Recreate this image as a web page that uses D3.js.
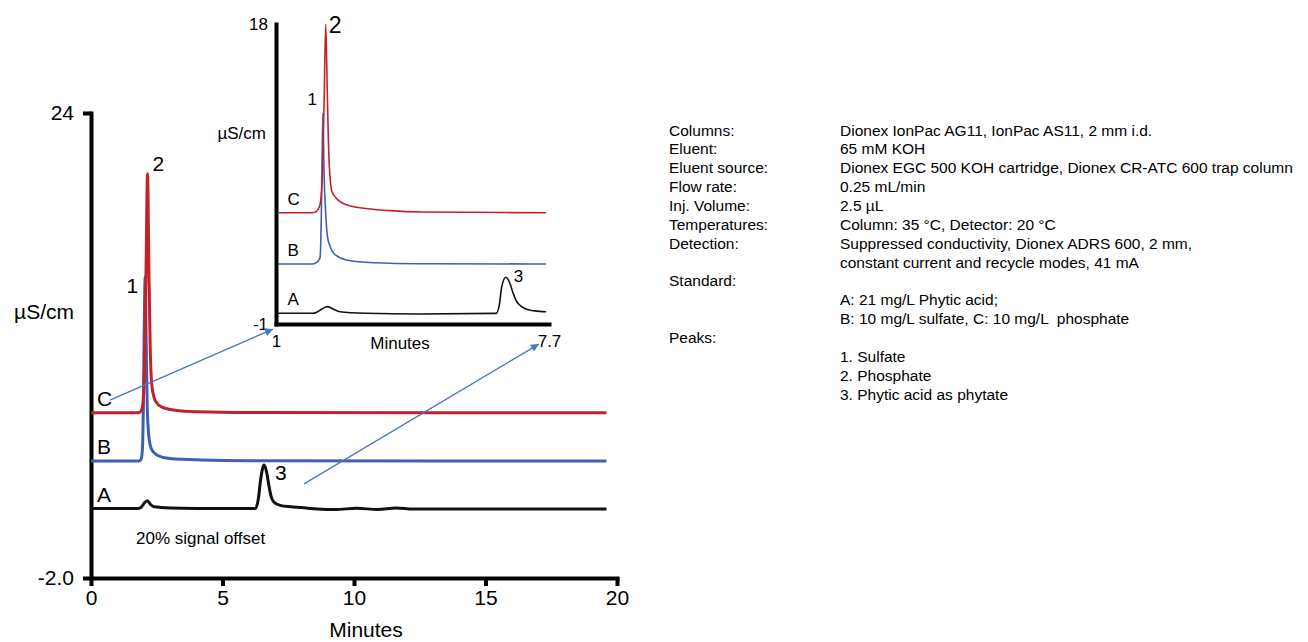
<!DOCTYPE html>
<html>
<head>
<meta charset="utf-8">
<script src="https://cdn.jsdelivr.net/npm/d3@7"></script>
<style>
  body { margin: 0; background: #fff; }
  text { font-family: "Liberation Sans", Arial, Helvetica, sans-serif; fill: #000; }
</style>
</head>
<body>
<div class="chart"></div>
<script>
// main chromatogram, [minutes, uS/cm] (20% signal offset)
var mainTraceA = [[0, 1.88], [1.8, 1.88], [1.92, 1.98], [2.02, 2.18], [2.14, 2.32], [2.26, 2.12], [2.4, 1.98],
  [3, 1.92], [5, 1.88], [6.25, 1.88], [6.36, 2.4], [6.46, 3.6], [6.58, 4.32], [6.68, 3.9], [6.76, 3.2],
  [6.85, 2.55], [6.95, 2.25], [7.19, 2.06], [7.6, 1.98], [8, 1.94], [8.6, 1.86], [9.3, 1.83], [10.1, 1.9],
  [10.9, 1.83], [11.6, 1.92], [12.25, 1.86], [19.6, 1.86]];
var mainTraceB = [[0, 4.54], [1.82, 4.54], [1.9, 4.62], [1.95, 5.1], [1.99, 7.5], [2.02, 11.5], [2.06, 14.85],
  [2.1, 11], [2.14, 7.5], [2.2, 5.9], [2.3, 5.2], [2.5, 4.88], [3, 4.68], [4.2, 4.6], [6, 4.56], [19.6, 4.54]];
var mainTraceC = [[0, 7.24], [1.8, 7.24], [1.9, 7.32], [1.97, 7.7], [2.03, 9.5], [2.09, 15], [2.15, 20.6],
  [2.2, 15.5], [2.25, 11], [2.32, 8.7], [2.45, 7.9], [2.7, 7.55], [3.2, 7.38], [4, 7.3], [6, 7.26], [19.6, 7.24]];

// inset, 1 - 7.7 min
var insetTraceA = [[1.06, -0.32], [1.9, -0.32], [2.0, -0.25], [2.13, -0.05], [2.26, 0.1], [2.4, -0.05],
  [2.57, -0.22], [3.2, -0.32], [4.5, -0.37], [6.4, -0.33], [6.48, 0.2], [6.54, 1.36], [6.64, 1.96],
  [6.74, 1.58], [6.82, 0.95], [6.91, 0.41], [7.02, 0.12], [7.15, -0.07], [7.35, -0.17], [7.63, -0.22]];
var insetTraceB = [[1.06, 2.8], [1.9, 2.8], [2.0, 2.9], [2.08, 3.2], [2.11, 5.5], [2.13, 9], [2.15, 12.35],
  [2.18, 8.5], [2.22, 6], [2.26, 4.6], [2.33, 3.9], [2.41, 3.5], [2.73, 3.05], [3.39, 2.88], [4.5, 2.82], [7.63, 2.8]];
var insetTraceC = [[1.06, 6.05], [1.9, 6.05], [2.0, 6.15], [2.08, 6.55], [2.13, 8], [2.18, 13], [2.22, 18],
  [2.26, 13.5], [2.3, 9.5], [2.37, 7.4], [2.47, 7.0], [2.57, 6.75], [2.98, 6.39], [3.8, 6.18], [4.6, 6.09], [7.63, 6.05]];

var traceNames = ["A", "B", "C"];
var peakNames = ["1", "2", "3"];

var mainXTicks = [0, 5, 10, 15, 20];
var mainYTicks = [24, -2];
var mainYTickLabels = ["24", "-2.0"];
var insetXTicks = [1, 7.7];
var insetYTicks = [18, -1];

var paramLabels = ["Columns:", "Eluent:", "Eluent source:", "Flow rate:", "Inj. Volume:", "Temperatures:",
  "Detection:", "", "Standard:", "", "", "Peaks:", "", "", ""];
var paramValues = ["Dionex IonPac AG11, IonPac AS11, 2 mm i.d.", "65 mM KOH",
  "Dionex EGC 500 KOH cartridge, Dionex CR-ATC 600 trap column", "0.25 mL/min", "2.5 \u00b5L",
  "Column: 35 \u00b0C, Detector: 20 \u00b0C", "Suppressed conductivity, Dionex ADRS 600, 2 mm,",
  "constant current and recycle modes, 41 mA", "", "A: 21 mg/L Phytic acid;",
  "B: 10 mg/L sulfate, C: 10 mg/L  phosphate", "", "1. Sulfate", "2. Phosphate", "3. Phytic acid as phytate"];

function init() {
  var w = 1308;
  var h = 642;
  var colors = { A: "#111111", B: "#3d5fb4", C: "#c4212b" };
  var arrowColor = "#4a76c6";

  var svg = d3.select(".chart")
    .append("svg")
    .attr("width", w)
    .attr("height", h);

  svg.append("rect").attr("width", w).attr("height", h).attr("fill", "#fff");

  var xMain = d3.scaleLinear().domain([0, 20]).range([91, 617]);
  var yMain = d3.scaleLinear().domain([-2, 24]).range([578, 113]);
  var xInset = d3.scaleLinear().domain([1, 7.7]).range([276, 549]);
  var yInset = d3.scaleLinear().domain([-1, 18]).range([324, 24]);

  function styleAxis(g, size) {
    g.select(".domain").attr("stroke", "#000").attr("stroke-width", 4).attr("stroke-linecap", "square");
    g.selectAll(".tick line").attr("stroke", "#000").attr("stroke-width", 4);
    g.selectAll("text")
      .attr("font-size", size)
      .attr("font-family", "'Liberation Sans', Arial, sans-serif")
      .attr("fill", "#000");
  }

  // plain hyphen labels, as in the original figure
  function plain(d) { return String(d); }

  // ---- main axes
  svg.append("g")
    .attr("transform", "translate(" + xMain(0) + ",0)")
    .call(d3.axisLeft(yMain)
      .tickValues(mainYTicks)
      .tickSize(8)
      .tickSizeOuter(0)
      .tickPadding(9)
      .tickFormat(function(d, i) { return mainYTickLabels[i]; }))
    .call(styleAxis, 21);

  svg.append("g")
    .attr("transform", "translate(0," + yMain(-2) + ")")
    .call(d3.axisBottom(xMain)
      .tickValues(mainXTicks)
      .tickSize(8)
      .tickSizeOuter(0)
      .tickPadding(4)
      .tickFormat(plain))
    .call(styleAxis, 21);

  svg.append("text")
    .attr("x", 74)
    .attr("y", 319)
    .attr("text-anchor", "end")
    .attr("font-size", 21)
    .text("\u00b5S/cm");

  svg.append("text")
    .attr("x", 366)
    .attr("y", 637)
    .attr("text-anchor", "middle")
    .attr("font-size", 21)
    .text("Minutes");

  svg.append("text")
    .attr("x", 136)
    .attr("y", 544)
    .attr("font-size", 17)
    .text("20% signal offset");

  // ---- main traces
  var mainLine = d3.line()
    .x(function(d) { return xMain(d[0]); })
    .y(function(d) { return yMain(d[1]); })
    .curve(d3.curveMonotoneX);

  var mainTraces = [mainTraceA, mainTraceB, mainTraceC];

  svg.selectAll(".main-trace")
    .data(mainTraces)
    .enter()
    .append("path")
    .attr("class", "main-trace")
    .attr("fill", "none")
    .attr("stroke", function(d, i) { return colors[traceNames[i]]; })
    .attr("stroke-width", 3)
    .attr("stroke-linejoin", "round")
    .attr("d", mainLine);

  svg.selectAll(".main-name")
    .data(mainTraces)
    .enter()
    .append("text")
    .attr("class", "main-name")
    .attr("x", function(d) { return xMain(d[0][0]) + 6; })
    .attr("y", function(d) { return yMain(d[0][1]) - 7; })
    .attr("font-size", 21)
    .text(function(d, i) { return traceNames[i]; });

  function peakOf(trace) {
    return trace.reduce(function(a, b) { return b[1] > a[1] ? b : a; });
  }

  // peak numbers: 1 on B, 2 on C, 3 on A
  var mainPeaks = [
    { p: peakOf(mainTraceB), dx: -7, dy: 16, anchor: "end" },
    { p: peakOf(mainTraceC), dx: 5, dy: -3, anchor: "start" },
    { p: peakOf(mainTraceA), dx: 11, dy: 15, anchor: "start" }
  ];

  svg.selectAll(".main-peak")
    .data(mainPeaks)
    .enter()
    .append("text")
    .attr("class", "main-peak")
    .attr("x", function(d) { return xMain(d.p[0]) + d.dx; })
    .attr("y", function(d) { return yMain(d.p[1]) + d.dy; })
    .attr("text-anchor", function(d) { return d.anchor; })
    .attr("font-size", 21)
    .text(function(d, i) { return peakNames[i]; });

  // ---- inset
  var inset = svg.append("g").attr("class", "inset");

  inset.append("g")
    .attr("transform", "translate(" + xInset(1) + ",0)")
    .call(d3.axisLeft(yInset)
      .tickValues(insetYTicks)
      .tickSize(0)
      .tickSizeOuter(0)
      .tickPadding(8)
      .tickFormat(plain))
    .call(styleAxis, 17);

  inset.append("g")
    .attr("transform", "translate(0," + yInset(-1) + ")")
    .call(d3.axisBottom(xInset)
      .tickValues(insetXTicks)
      .tickSize(0)
      .tickSizeOuter(0)
      .tickPadding(11)
      .tickFormat(plain))
    .call(styleAxis, 17);

  inset.append("text")
    .attr("x", 266)
    .attr("y", 139)
    .attr("text-anchor", "end")
    .attr("font-size", 17)
    .text("\u00b5S/cm");

  inset.append("text")
    .attr("x", 400)
    .attr("y", 349)
    .attr("text-anchor", "middle")
    .attr("font-size", 17)
    .text("Minutes");

  var insetLine = d3.line()
    .x(function(d) { return xInset(d[0]); })
    .y(function(d) { return yInset(d[1]); })
    .curve(d3.curveMonotoneX);

  var insetTraces = [insetTraceA, insetTraceB, insetTraceC];

  inset.selectAll(".inset-trace")
    .data(insetTraces)
    .enter()
    .append("path")
    .attr("class", "inset-trace")
    .attr("fill", "none")
    .attr("stroke", function(d, i) { return colors[traceNames[i]]; })
    .attr("stroke-width", 1.6)
    .attr("d", insetLine);

  inset.selectAll(".inset-name")
    .data(insetTraces)
    .enter()
    .append("text")
    .attr("class", "inset-name")
    .attr("x", function(d) { return xInset(d[0][0]) + 9; })
    .attr("y", function(d) { return yInset(d[0][1]) - 8; })
    .attr("font-size", 17)
    .text(function(d, i) { return traceNames[i]; });

  var insetPeaks = [
    { p: peakOf(insetTraceB), dx: -6, dy: -8, anchor: "end", size: 17 },
    { p: peakOf(insetTraceC), dx: 3, dy: 9, anchor: "start", size: 23 },
    { p: peakOf(insetTraceA), dx: 8, dy: 5, anchor: "start", size: 17 }
  ];

  inset.selectAll(".inset-peak")
    .data(insetPeaks)
    .enter()
    .append("text")
    .attr("class", "inset-peak")
    .attr("x", function(d) { return xInset(d.p[0]) + d.dx; })
    .attr("y", function(d) { return yInset(d.p[1]) + d.dy; })
    .attr("text-anchor", function(d) { return d.anchor; })
    .attr("font-size", function(d) { return d.size; })
    .text(function(d, i) { return peakNames[i]; });

  // ---- zoom arrows (main chart units)
  svg.append("defs").append("marker")
    .attr("id", "head")
    .attr("viewBox", "0 0 10 10")
    .attr("refX", 10)
    .attr("refY", 5)
    .attr("markerUnits", "userSpaceOnUse")
    .attr("markerWidth", 11)
    .attr("markerHeight", 8)
    .attr("orient", "auto")
    .append("path")
    .attr("d", "M0,0L10,5L0,10z")
    .attr("fill", arrowColor);

  var arrows = [
    [[0.72, 7.95], [6.92, 11.92]],
    [[8.1, 3.26], [17.03, 11.08]]
  ];

  svg.selectAll(".arrow")
    .data(arrows)
    .enter()
    .append("line")
    .attr("class", "arrow")
    .attr("x1", function(d) { return xMain(d[0][0]); })
    .attr("y1", function(d) { return yMain(d[0][1]); })
    .attr("x2", function(d) { return xMain(d[1][0]); })
    .attr("y2", function(d) { return yMain(d[1][1]); })
    .attr("stroke", arrowColor)
    .attr("stroke-width", 1.3)
    .attr("marker-end", "url(#head)");

  // ---- conditions block
  var info = svg.append("g").attr("class", "info").attr("font-size", 15.5);

  info.selectAll(".param-label")
    .data(paramLabels)
    .enter()
    .append("text")
    .attr("class", "param-label")
    .attr("x", 669)
    .attr("y", function(d, i) { return 135.5 + i * 18.86; })
    .text(function(d) { return d; });

  info.selectAll(".param-value")
    .data(paramValues)
    .enter()
    .append("text")
    .attr("class", "param-value")
    .attr("x", 840)
    .attr("y", function(d, i) { return 135.5 + i * 18.86; })
    .style("white-space", "pre")
    .text(function(d) { return d; });
}

window.onload = init;
</script>
</body>
</html>
